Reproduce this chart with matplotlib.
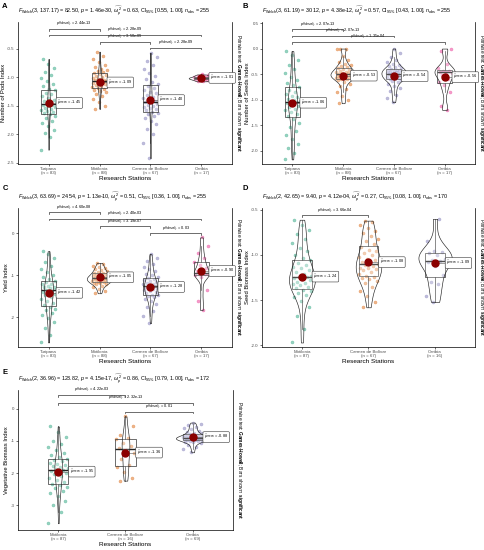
import numpy as np
import matplotlib
matplotlib.use("Agg")
import matplotlib.pyplot as plt

plt.rcParams['font.family'] = ['Liberation Sans', 'DejaVu Sans']
plt.rcParams['mathtext.fontset'] = 'custom'
plt.rcParams['mathtext.rm'] = 'Liberation Sans'
plt.rcParams['mathtext.it'] = 'Liberation Sans:italic'
plt.rcParams['mathtext.bf'] = 'Liberation Sans:bold'
plt.rcParams['axes.unicode_minus'] = False

# colours (Dark2)
GREEN, ORANGE, PURPLE, PINK = '#1B9E77', '#D95F02', '#7570B3', '#E7298A'

stations4 = ['Turipana', 'Motilonia', 'Carmen de Bolívar', 'Caribia']
stations3 = ['Motilonia', 'Carmen de Bolívar', 'Caribia']

# ---------------- A: Number of Pods Index ----------------
a_n = [83, 88, 67, 17]
a_means = [-1.45, -1.09, -1.40, -1.01]
a_turipana = [-2.27, -2.05, -1.98, -1.92, -1.85, -1.80, -1.76, -1.72, -1.68, -1.65,
              -1.63, -1.61, -1.59, -1.57, -1.55, -1.53, -1.52, -1.50, -1.49, -1.48,
              -1.47, -1.45, -1.43, -1.41, -1.39, -1.36, -1.33, -1.30, -1.27, -1.23,
              -1.20, -1.16, -1.12, -1.07, -1.02, -0.96, -0.90, -0.84, -0.76, -0.68]
a_motilonia = [-1.55, -1.50, -1.44, -1.38, -1.33, -1.29, -1.26, -1.24, -1.22, -1.20,
               -1.19, -1.17, -1.15, -1.14, -1.12, -1.11, -1.10, -1.09, -1.08, -1.07,
               -1.06, -1.05, -1.04, -1.03, -1.01, -1.00, -0.98, -0.96, -0.94, -0.92,
               -0.91, -0.89, -0.87, -0.85, -0.82, -0.78, -0.73, -0.68, -0.62, -0.55]
a_carmen = [-2.42, -2.15, -2.00, -1.90, -1.82, -1.76, -1.71, -1.67, -1.64, -1.62,
            -1.60, -1.58, -1.56, -1.54, -1.52, -1.50, -1.48, -1.46, -1.45, -1.44,
            -1.42, -1.40, -1.37, -1.34, -1.31, -1.28, -1.25, -1.22, -1.19, -1.15,
            -1.12, -1.08, -1.03, -0.98, -0.92, -0.86, -0.79, -0.72, -0.64, -0.57]
a_caribia = [-1.07, -1.06, -1.05, -1.04, -1.03, -1.03, -1.02, -1.02, -1.01, -1.01,
             -1.00, -1.00, -0.99, -0.98, -0.97, -0.96, -0.95]
a_pairs = [(0, 1, -0.15, '2.44e-13'), (0, 3, -0.25, '2.28e-09'),
           (1, 2, -0.38, '3.50e-09'), (2, 3, -0.48, '2.28e-09')]

# ---------------- B: Number of Seeds Index ----------------
b_n = [83, 88, 67, 17]
b_means = [-1.06, -0.53, -0.54, -0.56]
b_turipana = [-2.17, -2.05, -1.95, -1.86, -1.78, -1.70, -1.62, -1.53, -1.45, -1.38,
              -1.33, -1.29, -1.25, -1.21, -1.18, -1.15, -1.12, -1.09, -1.07, -1.05,
              -1.04, -1.02, -1.00, -0.98, -0.95, -0.92, -0.89, -0.85, -0.81, -0.76,
              -0.72, -0.67, -0.61, -0.55, -0.48, -0.40, -0.32, -0.22, -0.12, -0.05]
b_motilonia = [-1.07, -1.00, -0.93, -0.86, -0.80, -0.74, -0.69, -0.65, -0.62, -0.60,
               -0.59, -0.58, -0.57, -0.56, -0.55, -0.54, -0.53, -0.52, -0.51, -0.50,
               -0.50, -0.49, -0.48, -0.47, -0.46, -0.45, -0.43, -0.42, -0.40, -0.38,
               -0.37, -0.35, -0.33, -0.30, -0.27, -0.22, -0.15, 0.00, 0.00, 0.00]
b_carmen = [-1.05, -0.97, -0.90, -0.84, -0.78, -0.73, -0.69, -0.66, -0.63, -0.61,
            -0.60, -0.59, -0.58, -0.57, -0.56, -0.55, -0.53, -0.52, -0.51, -0.50,
            -0.49, -0.48, -0.47, -0.46, -0.45, -0.44, -0.43, -0.42, -0.41, -0.40,
            -0.39, -0.37, -0.35, -0.33, -0.30, -0.27, -0.22, -0.16, -0.08, 0.00]
b_caribia = [-1.20, -1.12, -0.85, -0.72, -0.66, -0.60, -0.52, -0.47, -0.46, -0.45,
             -0.44, -0.43, -0.38, -0.30, -0.05, 0.00]
b_pairs = [(0, 1, 0.38, '2.07e-13'), (0, 2, 0.25, '2.07e-13'), (0, 3, 0.13, '1.35e-04')]

# ---------------- C: Yield Index ----------------
c_n = [83, 88, 67, 17]
c_means = [-1.42, -1.05, -1.28, -0.90]
c_turipana = [-2.60, -2.42, -2.25, -2.12, -2.02, -1.95, -1.89, -1.84, -1.80, -1.76,
              -1.72, -1.67, -1.62, -1.57, -1.52, -1.48, -1.45, -1.42, -1.39, -1.37,
              -1.35, -1.33, -1.31, -1.29, -1.27, -1.25, -1.22, -1.20, -1.17, -1.14,
              -1.10, -1.05, -0.99, -0.92, -0.85, -0.77, -0.68, -0.59, -0.50, -0.43]
c_motilonia = [-1.43, -1.38, -1.33, -1.28, -1.25, -1.22, -1.20, -1.19, -1.18, -1.17,
               -1.16, -1.14, -1.13, -1.12, -1.11, -1.10, -1.09, -1.09, -1.08, -1.07,
               -1.07, -1.06, -1.05, -1.04, -1.03, -1.01, -1.00, -0.98, -0.97, -0.95,
               -0.94, -0.92, -0.90, -0.88, -0.86, -0.83, -0.80, -0.77, -0.74, -0.71]
c_carmen = [-2.14, -1.98, -1.86, -1.76, -1.68, -1.62, -1.57, -1.53, -1.50, -1.48,
            -1.46, -1.43, -1.40, -1.38, -1.36, -1.34, -1.32, -1.30, -1.28, -1.27,
            -1.25, -1.24, -1.22, -1.20, -1.18, -1.16, -1.14, -1.12, -1.10, -1.07,
            -1.04, -1.00, -0.96, -0.91, -0.86, -0.80, -0.73, -0.66, -0.58, -0.50]
c_caribia = [-1.83, -1.62, -1.35, -1.05, -1.00, -0.98, -0.97, -0.96, -0.95, -0.90,
             -0.82, -0.75, -0.69, -0.60, -0.48, -0.30, -0.10]
c_pairs = [(0, 1, 0.50, '4.60e-08'), (0, 3, 0.345, '2.40e-03'),
           (1, 2, 0.165, '3.19e-07'), (2, 3, 0.0, '0.03')]

# ---------------- D: Seed Biomass Index ----------------
d_n = [87, 67, 16]
d_means = [-1.24, -1.08, -1.09]
d_motilonia = [-1.97, -1.82, -1.68, -1.58, -1.51, -1.47, -1.44, -1.42, -1.40, -1.39,
               -1.37, -1.35, -1.33, -1.32, -1.31, -1.30, -1.28, -1.27, -1.26, -1.25,
               -1.24, -1.23, -1.21, -1.19, -1.17, -1.15, -1.13, -1.11, -1.09, -1.06,
               -1.03, -1.00, -0.96, -0.92, -0.87, -0.82, -0.77, -0.72, -0.67, -0.61]
d_carmen = [-1.58, -1.52, -1.46, -1.40, -1.35, -1.31, -1.29, -1.27, -1.26, -1.25,
            -1.23, -1.21, -1.19, -1.17, -1.16, -1.15, -1.14, -1.12, -1.11, -1.10,
            -1.09, -1.08, -1.06, -1.04, -1.02, -1.00, -0.98, -0.96, -0.94, -0.91,
            -0.88, -0.85, -0.82, -0.79, -0.76, -0.73, -0.70, -0.67, -0.64, -0.62]
d_caribia = [-1.52, -1.45, -1.32, -1.30, -1.22, -1.12, -1.08, -1.07, -1.06, -1.05,
             -1.00, -0.98, -0.97, -0.96, -0.85, -0.60]
d_pairs = [(0, 1, -0.56, '3.66e-04')]

# ---------------- E: Vegetative Biomass Index ----------------
e_n = [87, 16, 69]
e_means = [-1.95, -1.36, -0.88]
e_motilonia = [-3.55, -3.20, -3.00, -2.85, -2.72, -2.62, -2.54, -2.47, -2.42, -2.38,
               -2.33, -2.27, -2.20, -2.14, -2.08, -2.03, -1.99, -1.95, -1.92, -1.90,
               -1.88, -1.85, -1.82, -1.79, -1.75, -1.71, -1.67, -1.63, -1.60, -1.56,
               -1.50, -1.43, -1.36, -1.28, -1.20, -1.10, -1.00, -0.88, -0.72, -0.55]
e_carmen = [-2.23, -2.15, -1.95, -1.82, -1.75, -1.55, -1.38, -1.28, -1.22, -1.15,
            -1.05, -0.95, -0.90, -0.80, -0.55, -0.24]
e_caribia = [-1.35, -1.25, -1.18, -1.12, -1.07, -1.04, -1.02, -1.00, -0.99, -0.98,
             -0.97, -0.96, -0.95, -0.94, -0.93, -0.93, -0.92, -0.91, -0.91, -0.90,
             -0.90, -0.89, -0.88, -0.87, -0.86, -0.85, -0.84, -0.82, -0.80, -0.78,
             -0.76, -0.74, -0.71, -0.68, -0.64, -0.60, -0.56, -0.52, -0.48, -0.43]
e_pairs = [(0, 1, 0.43, '4.22e-03'), (0, 2, 0.18, '2.32e-13'), (1, 2, -0.09, '0.01')]

W, H = 485, 550
fig = plt.figure(figsize=(W / 100, H / 100), dpi=100)


def px_axes(l, t, r, b):
    return fig.add_axes([l / W, 1 - b / H, (r - l) / W, (b - t) / H])


def kde(v, grid):
    # gaussian density, bandwidth like R's bw.nrd0
    v = np.asarray(v)
    sd = v.std(ddof=1)
    q75, q25 = np.percentile(v, [75, 25])
    bw = 0.9 * min(sd, (q75 - q25) / 1.34) * len(v) ** -0.2
    z = (grid[:, None] - v[None, :]) / bw
    return np.exp(-0.5 * z ** 2).sum(axis=1) / (len(v) * bw * np.sqrt(2 * np.pi))


def draw_panel(ax, groups, ns, colors, values, means, ylim, yticks, ylabel,
               stats, pairs):
    pos = np.arange(1, len(groups) + 1)

    # jittered raw points
    for k, v in enumerate(values):
        idx = np.arange(len(v))
        jit = ((idx * 0.618034 + 0.21 * k) % 1 - 0.5) * 0.3
        ax.scatter(pos[k] + jit, v, s=5, color=colors[k], alpha=0.45,
                   linewidths=0.3, zorder=2)

    # boxplots
    ax.boxplot(values, positions=pos, widths=0.3, showfliers=False, showcaps=False,
               patch_artist=True,
               boxprops=dict(facecolor=(1, 1, 1, 0.2), edgecolor='#333333', linewidth=0.5),
               medianprops=dict(color='#222222', linewidth=1.0),
               whiskerprops=dict(color='#333333', linewidth=0.5), zorder=3)

    # violins, scaled by area like ggplot
    grids = [np.linspace(min(v), max(v), 256) for v in values]
    dens = [kde(v, g) for v, g in zip(values, grids)]
    top = max(d.max() for d in dens)
    for k in range(len(values)):
        w = 0.25 * dens[k] / top
        ax.fill_betweenx(grids[k], pos[k] - w, pos[k] + w, facecolor=(1, 1, 1, 0.2),
                         edgecolor='#222222', linewidth=0.45, zorder=4)

    # means with labels
    for k in range(len(groups)):
        ax.plot([pos[k], pos[k] + 0.17], [means[k], means[k]], color='#555555',
                lw=0.4, zorder=5)
        ax.text(pos[k] + 0.17, means[k],
                r'$\widehat{\mu}_{\mathrm{mean}}$ = %.2f' % means[k], fontsize=2.8,
                ha='left', va='center', zorder=7,
                bbox=dict(boxstyle='round,pad=0.3', fc='white', ec='#333333', lw=0.4))
    ax.plot(pos, means, 'o', color='darkred', ms=5, zorder=6)

    # pairwise comparison bars
    tip = 0.012 * (ylim[1] - ylim[0])
    for i, j, y, p in pairs:
        ax.plot([pos[i], pos[i], pos[j], pos[j]], [y - tip, y, y, y - tip],
                color='#333333', lw=0.5, zorder=5)
        ax.annotate(r'$p_{\mathrm{Holm\text{-}adj.}}$ = ' + p,
                    xy=((pos[i] + pos[j]) / 2, y), xytext=(0, 0.4),
                    textcoords='offset points', ha='center', va='bottom', fontsize=2.8)

    ax.set_xlim(0.4, len(groups) + 0.6)
    ax.set_ylim(*ylim)
    ax.set_yticks(yticks)
    ax.set_xticks(pos)
    ax.set_xticklabels([f'{g}\n(n = {n})' for g, n in zip(groups, ns)],
                       linespacing=0.95)
    ax.tick_params(labelsize=3.2, labelcolor='#4d4d4d', length=1.5, width=0.4, pad=1)
    ax.set_ylabel(ylabel, fontsize=4.2, labelpad=1)
    ax.set_xlabel('Research Stations', fontsize=4.6, labelpad=0.5)
    for s in ['left', 'bottom', 'right']:
        ax.spines[s].set_linewidth(0.5)
    ax.spines['top'].set_visible(False)

    ax.annotate(stats, xy=(0, 1), xycoords='axes fraction', xytext=(0, 3),
                textcoords='offset points', ha='left', va='bottom', fontsize=3.9)
    ax.annotate(r'Pairwise test: $\mathbf{Games}$-$\mathbf{Howell}$; Bars shown: '
                r'$\mathbf{significant}$',
                xy=(1, 0.5), xycoords='axes fraction', xytext=(1.2, 0),
                textcoords='offset points', rotation=270, ha='left', va='center',
                fontsize=3.4)


def stats_text(df, F, p, w, ci, n):
    return (r'$F_{\mathrm{Welch}}$(' + df + ') = ' + F + ', $p$ = ' + p +
            r', $\widehat{\omega_p^2}$ = ' + w + r', CI$_{95\%}$ ' + ci +
            r', $n_{\mathrm{obs}}$ = ' + n)


def tag(letter, x, y):
    fig.text(x / W, 1 - y / H, letter, ha='center', va='center', fontsize=5.5,
             fontweight='bold')


axA = px_axes(18, 22, 232, 164)
draw_panel(axA, stations4, a_n, [GREEN, ORANGE, PURPLE, PINK],
           [a_turipana, a_motilonia, a_carmen, a_caribia], a_means,
           (-2.52, -0.03), [-2.5, -2.0, -1.5, -1.0, -0.5], 'Number of Pods Index',
           stats_text('3, 137.17', '82.50', '1.46e-30', '0.63', '[0.55, 1.00]', '255'),
           a_pairs)
tag('A', 5, 6)

axB = px_axes(262, 22, 475, 164)
draw_panel(axB, stations4, b_n, [GREEN, ORANGE, PURPLE, PINK],
           [b_turipana, b_motilonia, b_carmen, b_caribia], b_means,
           (-2.26, 0.52), [-2.0, -1.5, -1.0, -0.5, 0.0, 0.5], 'Number of Seeds Index',
           stats_text('3, 61.19', '30.12', '4.38e-12', '0.57', '[0.43, 1.00]', '255'),
           b_pairs)
tag('B', 245, 6)

axC = px_axes(18, 208, 232, 347)
draw_panel(axC, stations4, c_n, [GREEN, ORANGE, PURPLE, PINK],
           [c_turipana, c_motilonia, c_carmen, c_caribia], c_means,
           (-2.71, 0.6), [-2, -1, 0], 'Yield Index',
           stats_text('3, 63.69', '24.54', '1.13e-10', '0.51', '[0.36, 1.00]', '255'),
           c_pairs)
tag('C', 5, 189)

axD = px_axes(262, 208, 475, 347)
draw_panel(axD, stations3, d_n, [GREEN, ORANGE, PURPLE],
           [d_motilonia, d_carmen, d_caribia], d_means,
           (-2.02, -0.48), [-2.0, -1.5, -1.0, -0.5], 'Seed Biomass Index',
           stats_text('2, 42.65', '9.40', '4.12e-04', '0.27', '[0.08, 1.00]', '170'),
           d_pairs)
tag('D', 245, 189)

axE = px_axes(18, 390, 233, 530)
draw_panel(axE, stations3, e_n, [GREEN, ORANGE, PURPLE],
           [e_motilonia, e_carmen, e_caribia], e_means,
           (-3.76, 0.58), [-3, -2, -1, 0], 'Vegetative Biomass Index',
           stats_text('2, 36.96', '123.82', '4.15e-17', '0.86', '[0.79, 1.00]', '172'),
           e_pairs)
tag('E', 5, 373)

fig.savefig('out.png', dpi=100, facecolor='white')
